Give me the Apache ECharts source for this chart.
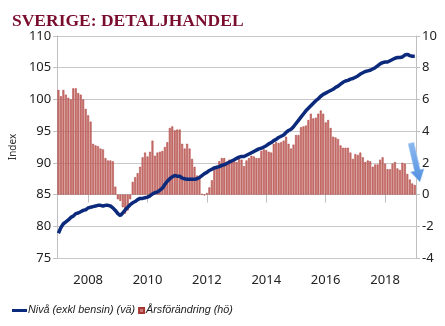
<!DOCTYPE html>
<html><head><meta charset="utf-8">
<script src="https://cdn.jsdelivr.net/npm/echarts@6/dist/echarts.min.js"></script>
<style>html,body{margin:0;padding:0;background:#fff}#c{width:445px;height:326px}</style>
</head><body><div id="c"></div>
<script>
// Months Jan 2007 .. Jan 2019
const months = [];
for (let y = 2007; y <= 2019; y++) for (let m = 1; m <= 12; m++) { if (y === 2019 && m > 1) break; months.push(y + '-' + String(m).padStart(2, '0')); }

// Nivå (exkl bensin), index, left axis
const niva = [
78.9,79.8,80.4,80.7,81.0,81.4,81.6,82.0,82.1,82.3,82.5,82.6,
82.9,83.0,83.1,83.2,83.3,83.3,83.2,83.3,83.3,83.2,82.9,82.5,
82.0,81.7,82.1,82.6,83.0,83.4,83.7,83.9,84.2,84.4,84.4,84.5,
84.6,84.8,85.1,85.3,85.4,85.7,86.0,86.6,87.1,87.5,87.8,88.0,
87.9,87.9,87.6,87.5,87.4,87.4,87.4,87.4,87.5,87.7,88.0,88.3,
88.5,88.8,89.0,89.2,89.3,89.4,89.6,89.7,89.9,90.1,90.3,90.5,
90.7,90.9,91.0,91.0,91.2,91.4,91.6,91.8,92.0,92.2,92.3,92.5,
92.7,93.0,93.2,93.5,93.7,94.0,94.2,94.4,94.8,95.1,95.3,95.7,
96.2,96.7,97.2,97.7,98.2,98.6,99.0,99.4,99.8,100.1,100.5,100.8,
101.0,101.2,101.4,101.6,101.9,102.1,102.4,102.7,102.9,103.0,103.2,103.3,
103.5,103.7,104.0,104.2,104.4,104.5,104.6,104.8,105.0,105.3,105.6,105.8,
105.9,105.9,106.1,106.3,106.5,106.6,106.6,106.7,107.0,107.1,106.9,106.8,
106.8];

// Årsförändring, %, right axis
const arsf = [
6.6,6.2,6.6,6.3,6.1,6.0,6.7,6.7,6.4,6.3,6.0,5.4,
5.0,4.6,3.2,3.1,3.05,2.9,2.85,2.3,2.15,2.15,2.1,0.5,
-0.3,-0.4,-0.8,-1.2,-1.0,-0.3,0.8,1.1,1.35,1.75,2.35,2.65,
2.4,2.7,3.4,2.45,2.65,2.7,2.75,3.0,3.3,4.2,4.3,4.05,
4.1,4.1,3.2,2.9,3.2,2.9,2.25,1.75,1.2,1.1,0.05,-0.05,
0.1,0.45,0.9,1.7,1.75,2.1,2.3,2.3,2.07,2.2,2.15,2.15,
2.05,2.25,2.2,1.8,2.15,2.3,2.45,2.4,2.3,2.3,2.75,2.85,
2.8,2.7,2.65,3.2,3.3,3.25,3.3,3.4,3.65,3.2,2.9,3.15,
3.75,3.75,4.25,4.3,4.35,4.7,5.1,4.8,4.85,5.1,5.3,5.1,
4.55,4.7,4.2,3.65,3.6,3.5,3.1,2.95,2.95,2.95,2.65,2.25,
2.55,2.5,2.65,2.35,2.05,2.15,2.1,1.75,1.9,1.9,2.2,2.35,
1.95,1.6,1.6,1.95,2.05,1.65,1.55,2.0,1.95,1.3,0.95,0.7,
0.6];

const leftTicks = {min: 75, max: 110, interval: 5};
const rightTicks = {min: -4, max: 10, interval: 2};
const yearLabelYears = ['2008','2010','2012','2014','2016','2018'];
const lineName = 'Nivå (exkl bensin) (vä)';
const barName = 'Årsförändring (hö)';

const showYear = (idx) => { const v = months[idx]; return v.endsWith('-01') && yearLabelYears.includes(v.slice(0,4)); };

// measure legend texts so both entries together span the reference width
const legFamily = '"Liberation Sans"';
const cv = document.createElement('canvas').getContext('2d');
cv.font = 'italic 12px ' + legFamily;
const sum12 = cv.measureText(lineName).width + cv.measureText(barName).width;
const legSize = Math.min(12.5, Math.max(9.5, 12 * 194 / sum12));
cv.font = 'italic ' + legSize + 'px ' + legFamily;
const w1 = cv.measureText(lineName).width;

const font = 'Noto Sans';
const legendText = {fontFamily: 'Liberation Sans', fontStyle: 'italic', fontSize: legSize, color: '#222'};
const chart = echarts.init(document.getElementById('c'), null, {renderer: 'canvas'});
chart.setOption({
  animation: false,
  title: {text: 'SVERIGE: DETALJHANDEL', left: 7, top: 7, textStyle: {fontFamily: 'Liberation Serif', fontWeight: 'bold', fontSize: 17.5, color: '#7a0d2e'}},
  grid: {left: 49, right: 29, top: 36, bottom: 68},
  legend: [
    {data: [{name: lineName, icon: 'rect'}], left: 7, top: 300, itemWidth: 15, itemHeight: 3, itemGap: 2, textStyle: Object.assign({padding: [0,0,0,-4]}, legendText)},
    {data: [{name: barName, icon: 'rect'}], left: 28 + w1 - 2, top: 300, itemWidth: 5, itemHeight: 5, itemGap: 2, textStyle: Object.assign({padding: [0,0,0,-3]}, legendText)}
  ],
  xAxis: {
    type: 'category', data: months, boundaryGap: true,
    axisLine: {lineStyle: {color: '#bfbfbf', width: 1}},
    axisTick: {show: true, alignWithLabel: true, interval: (i) => showYear(i), length: 8, lineStyle: {color: '#bfbfbf'}},
    axisLabel: {interval: (i) => showYear(i), formatter: (v) => v.slice(0,4), fontFamily: font, fontSize: 13, color: '#222', margin: 16},
    splitLine: {show: false}
  },
  yAxis: [
    {type: 'value', min: leftTicks.min, max: leftTicks.max, interval: leftTicks.interval, position: 'left',
     name: 'Index', nameLocation: 'middle', nameGap: 31, nameRotate: 90, nameTextStyle: {fontFamily: font, fontSize: 10, color: '#333'},
     axisLine: {show: true, lineStyle: {color: '#bfbfbf'}},
     axisTick: {show: true, length: 4, lineStyle: {color: '#bfbfbf'}},
     axisLabel: {fontFamily: font, fontSize: 13, color: '#222', margin: 6},
     splitLine: {show: true, lineStyle: {color: '#c8c8c8', width: 1}}},
    {type: 'value', min: rightTicks.min, max: rightTicks.max, interval: rightTicks.interval, position: 'right',
     axisLine: {show: true, lineStyle: {color: '#bfbfbf'}},
     axisTick: {show: true, length: 4, lineStyle: {color: '#bfbfbf'}},
     axisLabel: {fontFamily: font, fontSize: 13, color: '#222', margin: 6},
     splitLine: {show: false}}
  ],
  series: [
    {name: barName, type: 'bar', yAxisIndex: 1, data: arsf, barCategoryGap: '22%',
     itemStyle: {color: '#cc7c78', borderColor: '#a83632', borderWidth: 0.5}},
    {name: lineName, type: 'line', yAxisIndex: 0, data: niva, showSymbol: false, symbol: 'none',
     lineStyle: {color: '#0c2a7c', width: 3.5}, itemStyle: {color: '#0c2a7c'}}
  ],
  graphic: [
    {type: 'polygon', z: 100,
     shape: {points: [[408.1,143.7],[413.9,142.3],[420.2,169.6],[424.1,168.7],[420,182],[410.5,171.9],[414.4,171]]},
     style: {fill: new echarts.graphic.LinearGradient(0,0,0,1,[{offset:0,color:'#8fbaf0'},{offset:1,color:'#4f8fe0'}]), stroke: '#b9d3f5', lineWidth: 0.6}}
  ]
});
</script></body></html>
